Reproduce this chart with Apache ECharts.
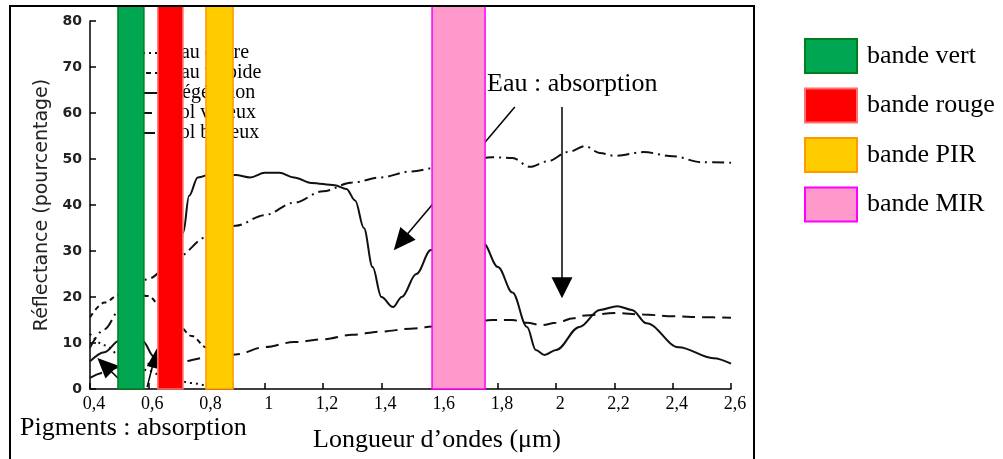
<!DOCTYPE html>
<html>
<head>
<meta charset="utf-8">
<script src="https://cdn.jsdelivr.net/npm/echarts@6.0.0/dist/echarts.min.js"></script>
<style>
  html, body { margin: 0; padding: 0; background: #fff; }
  #chart { width: 1003px; height: 459px; }
</style>
</head>
<body>
<div id="chart"></div>
<script>
// tick labels of the wavelength axis
const xTickLabels = ['0,4', '0,6', '0,8', '1', '1,2', '1,4', '1,6', '1,8', '2', '2,2', '2,4', '2,6']

// spectral curves (wavelength in µm, reflectance in %)
const claireX = [0.40, 0.45, 0.50, 0.55, 0.60, 0.65, 0.70, 0.75, 0.80, 0.85, 0.90]
const claireY = [12, 9.5, 7.5, 5.5, 4, 2.8, 1.8, 1.3, 0.8, 0.4, 0.1]

const turbideX = [0.40, 0.45, 0.50, 0.54, 0.60, 0.65, 0.70, 0.75, 0.80, 0.85, 0.89]
const turbideY = [15.6, 18.8, 20.5, 21, 20.2, 17.5, 14, 11.5, 9, 5, 1]

const vegX = [0.40, 0.45, 0.50, 0.55, 0.58, 0.62, 0.66, 0.68, 0.70, 0.72, 0.74, 0.77, 0.82, 0.90, 0.95, 1.00, 1.05, 1.10, 1.16, 1.24, 1.28, 1.31, 1.34, 1.37, 1.40, 1.44, 1.47, 1.52, 1.57, 1.65, 1.75, 1.80, 1.85, 1.90, 1.93, 1.96, 2.00, 2.08, 2.15, 2.21, 2.26, 2.31, 2.42, 2.54, 2.60]
const vegY = [6, 8, 10.5, 12, 10.5, 7, 4.5, 4.5, 12, 34, 42, 46, 46.8, 46.5, 46, 47, 47, 46, 44.8, 44.3, 43.5, 41, 35, 26.5, 20, 17.8, 20, 25, 30.2, 33, 31.7, 26.5, 21, 13.5, 8.5, 7.4, 8.5, 13.5, 17.2, 18, 17.2, 14.3, 9.1, 6.7, 5.5]

const vaseuxX = [0.40, 0.45, 0.50, 0.60, 0.70, 0.80, 0.90, 1.00, 1.10, 1.20, 1.30, 1.40, 1.50, 1.60, 1.70, 1.78, 1.85, 1.90, 1.95, 2.00, 2.06, 2.10, 2.20, 2.30, 2.40, 2.50, 2.60]
const vaseuxY = [2.4, 3.6, 4.8, 5.5, 5.8, 6.8, 7.5, 9.1, 10.2, 10.8, 11.8, 12.5, 13.1, 13.7, 14.4, 15, 15, 14.4, 13.9, 14.4, 15.4, 16, 16.5, 16.2, 15.8, 15.6, 15.5]

const boueuxX = [0.40, 0.45, 0.50, 0.55, 0.60, 0.70, 0.80, 0.90, 1.00, 1.10, 1.20, 1.30, 1.40, 1.50, 1.60, 1.70, 1.78, 1.85, 1.91, 1.97, 2.04, 2.10, 2.15, 2.20, 2.30, 2.40, 2.50, 2.60]
const boueuxY = [9, 13, 17, 21, 24, 28.7, 33, 35.5, 37.8, 40.5, 43, 44.9, 46, 47.3, 48.2, 49.6, 50.4, 50.2, 48.3, 49.5, 51.5, 52.8, 51.3, 50.7, 51.5, 50.6, 49.3, 49.2]

const seriesNames = ['eau claire', 'eau turbide', 'végétation', 'sol vaseux', 'sol boueux']

// spectral bands (µm)
const bandNames = ['bande vert', 'bande rouge', 'bande PIR', 'bande MIR']
const bandStart = [0.496, 0.633, 0.798, 1.574]
const bandEnd = [0.585, 0.719, 0.891, 1.756]

// annotation arrows [from, to] in data coordinates
const arrows = [
  [[1.858, 61.3], [1.467, 32]],
  [[2.02, 61.3], [2.02, 22]],
  [[0.52, 0.9], [0.45, 5.2]],
  [[0.596, 0.4], [0.622, 6.8]]
]
const arrowHeads = [[20, 22], [21, 21], [18, 20], [11, 20]]

const bandFill = ['#00a651', '#ff0000', '#ffcc00', '#ff99cc']
const bandStroke = ['#007f1f', '#ff6f6f', '#ff9900', '#ff00ff']
const serif = '"Liberation Serif", "Times New Roman", serif'

const zip = (xs, ys) => xs.map((x, i) => [x, ys[i]])

const myChart = echarts.init(document.getElementById('chart'))

const lineBase = (name, xs, ys, type) => ({
  name: name,
  type: 'line',
  data: zip(xs, ys),
  symbol: 'none',
  smooth: 0.35,
  smoothMonotone: 'x',
  z: 3,
  lineStyle: { color: '#111', width: 2, type: type },
  itemStyle: { color: '#111' },
  emphasis: { disabled: true }
})

const vegSeries = lineBase(seriesNames[2], vegX, vegY, 'solid')
vegSeries.markLine = {
  silent: true,
  symbol: ['none', 'triangle'],
  label: { show: false },
  lineStyle: { type: 'solid', color: '#000', width: 1.5 },
  emphasis: { disabled: true },
  data: arrows.map((a, i) => [
    { coord: a[0], symbol: 'none' },
    { coord: a[1], symbol: 'triangle', symbolSize: arrowHeads[i] }
  ])
}

const bandSeries = bandNames.map((name, i) => ({
  name: name,
  type: 'custom',
  xAxisIndex: 1,
  yAxisIndex: 1,
  z: 10,
  silent: true,
  itemStyle: { color: bandFill[i], borderColor: bandStroke[i], borderWidth: 2 },
  data: [[bandStart[i], bandEnd[i]]],
  renderItem: function (params, api) {
    const p0 = api.coord([api.value(0), 1])
    const p1 = api.coord([api.value(1), 0])
    return {
      type: 'rect',
      shape: { x: p0[0], y: p0[1], width: p1[0] - p0[0], height: p1[1] - p0[1] },
      style: { fill: bandFill[i], stroke: bandStroke[i], lineWidth: 1.5 }
    }
  }
}))

const option = {
  animation: false,
  backgroundColor: '#fff',
  grid: [
    { left: 90, right: 272, top: 21, bottom: 70 },
    { left: 90, right: 272, top: 6, bottom: 70 }
  ],
  xAxis: [
    {
      type: 'value',
      min: 0.4,
      max: 2.6,
      interval: 0.2,
      splitLine: { show: false },
      axisLine: { lineStyle: { color: '#000', width: 1.5 } },
      axisTick: { inside: true, length: 6, lineStyle: { color: '#000', width: 1.5 } },
      axisLabel: {
        color: '#000',
        fontFamily: serif,
        fontSize: 18,
        margin: 6,
        padding: [0, 0, 0, 8],
        formatter: v => xTickLabels[Math.round((v - 0.4) / 0.2)]
      }
    },
    { type: 'value', gridIndex: 1, min: 0.4, max: 2.6, show: false }
  ],
  yAxis: [
    {
      type: 'value',
      min: 0,
      max: 80,
      interval: 10,
      name: 'Réflectance (pourcentage)',
      nameLocation: 'middle',
      nameGap: 33,
      nameTextStyle: { color: '#222', fontFamily: '"DejaVu Sans", sans-serif', fontSize: 19 },
      splitLine: { show: false },
      axisLine: { show: true, lineStyle: { color: '#000', width: 1.5 } },
      axisTick: { show: true, inside: true, length: 6, lineStyle: { color: '#000', width: 1.5 } },
      axisLabel: { color: '#222', fontFamily: '"DejaVu Sans", sans-serif', fontSize: 14, fontWeight: 'bold', margin: 8 }
    },
    { type: 'value', gridIndex: 1, min: 0, max: 1, show: false }
  ],
  legend: [
    {
      data: seriesNames,
      orient: 'vertical',
      left: 113,
      top: 38,
      itemWidth: 40,
      itemHeight: 12,
      itemGap: 0,
      selectedMode: false,
      textStyle: { color: '#000', fontFamily: serif, fontSize: 20, lineHeight: 19.5, padding: [0, 0, 0, 8] }
    },
    {
      data: bandNames.map((name, i) => ({
        name: name,
        itemStyle: { color: bandFill[i], borderColor: bandStroke[i], borderWidth: 2 }
      })),
      orient: 'vertical',
      left: 799,
      top: 33,
      icon: 'rect',
      itemWidth: 52,
      itemHeight: 34,
      itemGap: 13.5,
      selectedMode: false,
      textStyle: { color: '#000', fontFamily: serif, fontSize: 26, lineHeight: 34, padding: [0, 0, 0, 5] }
    }
  ],
  graphic: [
    {
      type: 'rect',
      z: 100,
      shape: { x: 10, y: 6, width: 744, height: 470 },
      style: { fill: 'none', stroke: '#000', lineWidth: 2 }
    },
    {
      type: 'text',
      z: 100,
      x: 487,
      y: 84,
      style: { text: 'Eau : absorption', font: '26px ' + serif, fill: '#000', verticalAlign: 'middle' }
    },
    {
      type: 'text',
      z: 100,
      x: 20,
      y: 428,
      style: { text: 'Pigments : absorption', font: '26px ' + serif, fill: '#000', verticalAlign: 'middle' }
    },
    {
      type: 'text',
      z: 100,
      x: 313,
      y: 440,
      style: { text: 'Longueur d\u2019ondes (\u03bcm)', font: '26px ' + serif, fill: '#000', verticalAlign: 'middle' }
    }
  ],
  series: [
    lineBase(seriesNames[0], claireX, claireY, [2, 4]),
    lineBase(seriesNames[1], turbideX, turbideY, [5, 4]),
    vegSeries,
    lineBase(seriesNames[3], vaseuxX, vaseuxY, [13, 7]),
    lineBase(seriesNames[4], boueuxX, boueuxY, [12, 5, 2, 5])
  ].concat(bandSeries)
}

myChart.setOption(option)
</script>
</body>
</html>
